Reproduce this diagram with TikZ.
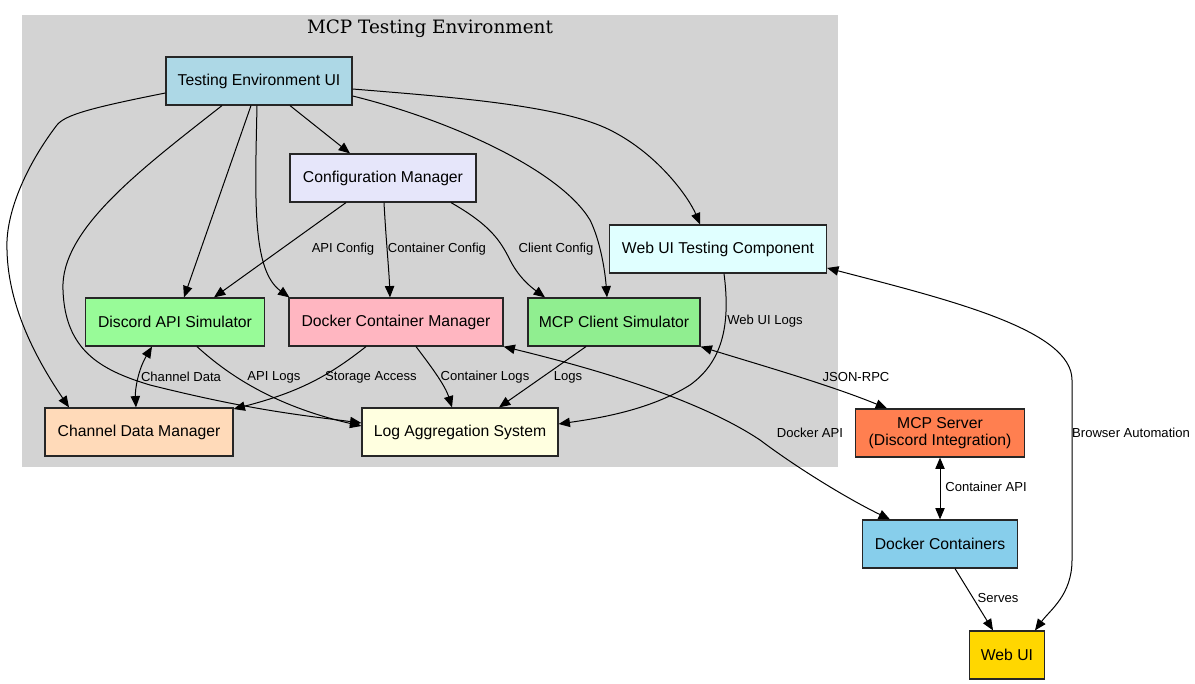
\documentclass[tikz,border=0pt]{standalone}
\usepackage{fontspec}
\setmainfont{Liberation Sans}
\newfontfamily\titlefont{DejaVu Serif}
\usetikzlibrary{arrows.meta,calc}

\definecolor{clustergray}{HTML}{D3D3D3}
\definecolor{cLightBlue}{HTML}{ADD8E6}
\definecolor{cLavender}{HTML}{E6E6FA}
\definecolor{cLightCyan}{HTML}{E0FFFF}
\definecolor{cPaleGreen}{HTML}{98FB98}
\definecolor{cLightPink}{HTML}{FFB6C1}
\definecolor{cLightGreen}{HTML}{90EE90}
\definecolor{cPeach}{HTML}{FFDAB9}
\definecolor{cLightYellow}{HTML}{FFFFE0}
\definecolor{cCoral}{HTML}{FF7F50}
\definecolor{cSkyBlue}{HTML}{87CEEB}
\definecolor{cGold}{HTML}{FFD700}

\tikzset{
	box/.style={draw=black!85, line width=0.9pt, rectangle, minimum height=36pt, inner sep=0pt,
		align=center, font=\fontsize{11.8}{12.8}\selectfont},
	elabel/.style={inner sep=0pt, font=\fontsize{9.8}{11}\selectfont}
}

\begin{document}
\begin{tikzpicture}[x=0.75pt, y=-0.75pt, line width=0.75pt, >={Triangle[length=8.5pt,width=7pt]}]
	\useasboundingbox (0,0) rectangle (1195,684);
	\fill[clustergray] (22,15) rectangle (838,467);
	\node[font=\titlefont\fontsize{13.8}{16}\selectfont] (title) at (430,29) {MCP Testing Environment};

	% nodes inside the testing environment
	\node[box, fill=cLightBlue, minimum width=139.5pt] (tui) at (259,81) {Testing Environment UI};
	\node[box, fill=cLavender, minimum width=139.5pt] (cfg) at (383,178) {Configuration Manager};
	\node[box, fill=cLightCyan, minimum width=162.75pt] (wut) at (718,249) {Web UI Testing Component};
	\node[box, fill=cPaleGreen, minimum width=134.25pt] (dapi) at (175,322) {Discord API Simulator};
	\node[box, fill=cLightPink, minimum width=160.5pt] (dcm) at (396,322) {Docker Container Manager};
	\node[box, fill=cLightGreen, minimum width=129pt] (mcs) at (614,322) {MCP Client Simulator};
	\node[box, fill=cPeach, minimum width=141pt] (cdm) at (139,432) {Channel Data Manager};
	\node[box, fill=cLightYellow, minimum width=147pt] (log) at (460,432) {Log Aggregation System};
	% nodes outside
	\node[box, fill=cCoral, minimum width=126.75pt] (srv) at (940,433) {MCP Server\\(Discord Integration)};
	\node[box, fill=cSkyBlue, minimum width=116.25pt] (dct) at (940,544) {Docker Containers};
	\node[box, fill=cGold, minimum width=56.25pt] (web) at (1007,655) {Web UI};

	% from the testing UI
	\draw[->] ($(tui.south)+(31,0)$) -- ($(cfg.north)+(-33,0)$);
	\draw[->] ($(tui.south)+(-8,0)$) -- ($(dapi.north)+(9,0)$);
	\draw[->] ($(tui.south)+(-2,0)$) .. controls (255,200) and (252,270) .. ($(dcm.north west)+(1,0)$);
	\draw[->] ($(tui.west)+(0,12)$) .. controls (90,108) and (65,115) .. (57,125)
		.. controls (30,160) and (5,210) .. (7,250) .. controls (8,300) and (30,350) .. ($(cdm.north)+(-70,0)$);
	\draw[->] ($(tui.south)+(-37,0)$) .. controls (140,170) and (60,230) .. (63,290)
		.. controls (65,350) and (100,370) .. (150,385) .. controls (250,410) and (300,415) .. ($(log.west)+(0,-9)$);
	\draw[->] ($(tui.east)+(0,15)$) .. controls (450,120) and (560,170) .. (590,220)
		.. controls (600,240) and (605,270) .. ($(mcs.north)+(-7,0)$);
	\draw[->] ($(tui.east)+(0,8)$) .. controls (450,97) and (560,105) .. (610,130)
		.. controls (660,155) and (690,200) .. ($(wut.north)+(-18,0)$);

	% from the configuration manager
	\draw[->] ($(cfg.south)+(-37,0)$) -- ($(dapi.north)+(39,0)$) node[elabel] at (343,249) {API Config};
	\draw[->] ($(cfg.south)+(1,0)$) .. controls (386,240) and (389,270) .. ($(dcm.north)+(-6,0)$)
		node[elabel] at (437,249) {Container Config};
	\draw[->] ($(cfg.south)+(68,0)$) .. controls (490,225) and (500,240) .. (510,260)
		.. controls (520,280) and (535,290) .. ($(mcs.north)+(-69,0)$) node[elabel] at (556,249) {Client Config};

	% logs and data
	\draw[<->] ($(dapi.south)+(-23,0)$) .. controls (138,370) and (135,390) .. ($(cdm.north)+(-3,0)$)
		node[elabel] at (181,377) {Channel Data};
	\draw[->] ($(dapi.south)+(22,0)$) .. controls (225,372) and (270,405) .. ($(log.west)+(0,-6)$)
		node[elabel] at (274,377) {API Logs};
	\draw[->] ($(dcm.south)+(-30,0)$) .. controls (330,375) and (300,392) .. ($(cdm.east)+(0,-23)$)
		node[elabel] at (371,377) {Storage Access};
	\draw[->] ($(dcm.south)+(20,0)$) .. controls (430,365) and (445,385) .. ($(log.north)+(-8,0)$)
		node[elabel] at (485,377) {Container Logs};
	\draw[->] ($(mcs.south)+(-28,0)$) -- ($(log.north)+(39,0)$) node[elabel] at (568,377) {Logs};
	\draw[->] ($(wut.south)+(6,0)$) .. controls (730,320) and (725,360) .. (690,385)
		.. controls (650,410) and (600,418) .. ($(log.east)+(0,-8)$) node[elabel] at (765,321) {Web UI Logs};

	% to the outside
	\draw[<->] (mcs.south east) .. controls (760,365) and (830,385) .. ($(srv.north)+(-53,0)$)
		node[elabel] at (856,377) {JSON-RPC};
	\draw[<->] (dcm.south east) .. controls (600,370) and (700,400) .. (760,440)
		.. controls (800,470) and (850,500) .. ($(dct.north)+(-50,0)$) node[elabel] at (810,433) {Docker API};
	\draw[<->] (srv) -- (dct) node[elabel] at (986,487) {Container API};
	\draw[->] ($(dct.south)+(15,0)$) -- ($(web.north)+(-14,0)$) node[elabel] at (998,598) {Serves};
	\draw[<->] ($(wut.east)+(0,19)$) .. controls (950,300) and (1072,330) .. (1072,380) -- (1072,560)
		.. controls (1072,595) and (1050,610) .. ($(web.north)+(28,0)$) node[elabel] at (1131,433) {Browser Automation};
\end{tikzpicture}
\end{document}
